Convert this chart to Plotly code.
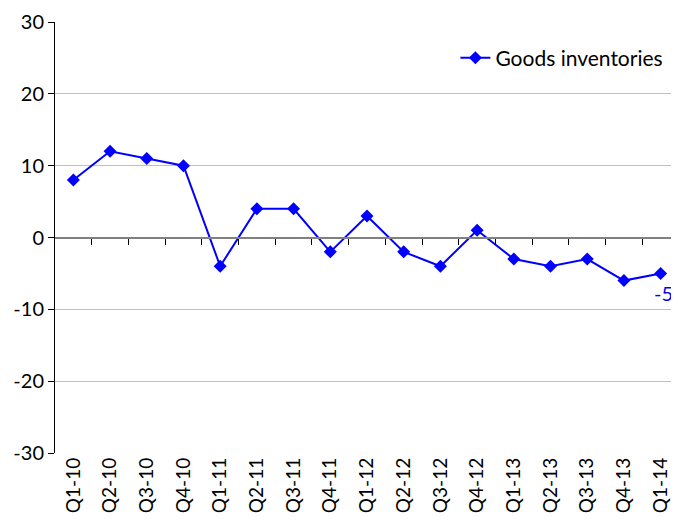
import plotly.graph_objects as go

categories = ["Q1-10", "Q2-10", "Q3-10", "Q4-10", "Q1-11", "Q2-11", "Q3-11", "Q4-11",
              "Q1-12", "Q2-12", "Q3-12", "Q4-12", "Q1-13", "Q2-13", "Q3-13", "Q4-13", "Q1-14"]
goods_inventories = [8, 12, 11, 10, -4, 4, 4, -2, 3, -2, -4, 1, -3, -4, -3, -6, -5]
y_ticks = [-30, -20, -10, 0, 10, 20, 30]
y_tick_labels = ["-30", "-20", "-10", "0", "10", "20", "30"]

FONT = "Lato, 'Open Sans', sans-serif"
BLUE = "#0000FF"

fig = go.Figure()
fig.add_trace(go.Scatter(
    x=categories, y=goods_inventories, mode="lines+markers",
    name="Goods inventories",
    line=dict(color=BLUE, width=2),
    marker=dict(symbol="diamond", size=10, color=BLUE),
))

n = len(categories)
# page body has an 8px margin, so the figure is sized/offset to compensate
fig.update_layout(
    width=671, height=514,
    margin=dict(l=47, r=0, t=14, b=69, autoexpand=False),
    paper_bgcolor="white", plot_bgcolor="white",
    font=dict(family=FONT, size=19, color="black"),
    showlegend=True,
    legend=dict(x=0.983, y=0.916, xanchor="right", yanchor="middle",
                font=dict(size=21), bgcolor="rgba(0,0,0,0)"),
    xaxis=dict(type="category", categoryorder="array", categoryarray=categories,
               range=[-0.5, n - 0.5], showgrid=False, showline=False,
               zeroline=False, ticks="", tickangle=-90, automargin=False,
               tickfont=dict(size=19)),
    xaxis2=dict(overlaying="x", anchor="free", position=0.5, side="bottom",
                range=[-0.5, n - 0.5], showgrid=False, zeroline=False,
                showline=True, linecolor="#808080", linewidth=2, automargin=False,
                ticks="outside", ticklen=6, tickcolor="black", tickwidth=1,
                tickvals=[i + 0.5 for i in range(n)], showticklabels=False),
    yaxis=dict(range=[-30, 30], tickvals=y_ticks, ticktext=y_tick_labels,
               showgrid=True, automargin=False,
               gridcolor="#c0c0c0", gridwidth=1, zeroline=False,
               showline=True, linecolor="black", linewidth=1,
               ticks="outside", ticklen=6, tickcolor="black",
               tickfont=dict(size=20)),
)

# invisible trace to activate xaxis2
fig.add_trace(go.Scatter(x=[-0.5, n - 0.5], y=[0, 0], xaxis="x2", mode="lines",
                         line=dict(width=0), showlegend=False, hoverinfo="skip"))

fig.add_annotation(x=categories[-1], y=goods_inventories[-1], xref="x", yref="y",
                   text=str(goods_inventories[-1]), showarrow=False,
                   xshift=3, yshift=-20, font=dict(color=BLUE, size=20, family=FONT))

fig.write_html("out.html")
